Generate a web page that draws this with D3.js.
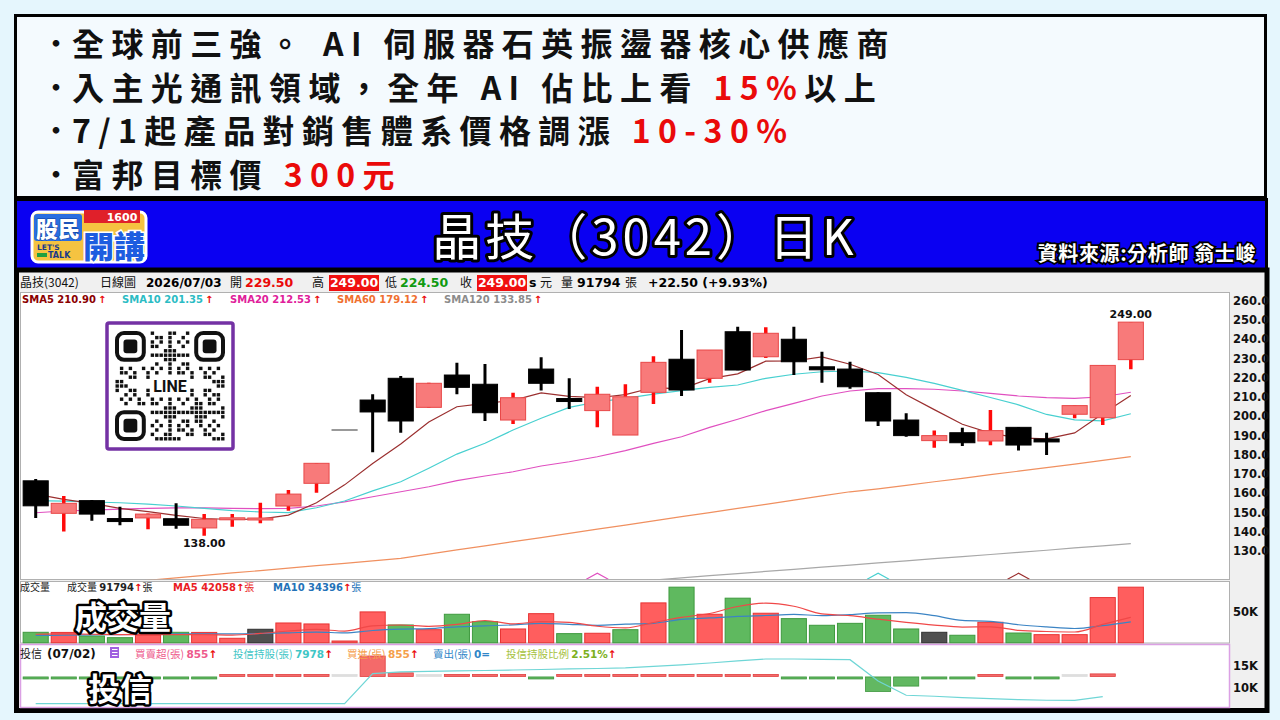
<!DOCTYPE html>
<html>
<head>
<meta charset="utf-8">
<script src="https://cdn.jsdelivr.net/npm/d3@7"></script>
<style>
  html, body { margin: 0; padding: 0; background: #e5f6fd; }
  svg { display: block; }
</style>
</head>
<body>
<svg id="chart" width="1280" height="720"></svg>
<script>
// ---- data ----
const bulletLines = [
  [["全球前三強。 AI 伺服器石英振盪器核心供應商", "k"]],
  [["入主光通訊領域，全年 AI 佔比上看 ", "k"], ["15%", "r"], ["以上", "k"]],
  [["7/1起產品對銷售體系價格調漲 ", "k"], ["10-30%", "r"]],
  [["富邦目標價 ", "k"], ["300元", "r"]]
];
const title = "晶技（3042）日K";
const source = "資料來源:分析師 翁士峻";

const open  = [166.5,149.6,156.2,146.2,147.2,146.8,142.0,146.5,146.3,153.4,165.2,192.9,208.5,219.8,204.7,221.5,216.7,198.1,224.6,209.0,203.0,190.3,212.5,229.7,219.8,244.0,231.0,240.1,225.5,224.6,212.3,198.1,187.4,191.5,187.2,194.3,187.6,201.1,199.3,229.5];
const high  = [167.5,158.6,156.5,153.0,149.5,154.8,149.2,149.2,155.1,161.7,175.6,192.9,211.5,221.0,217.5,227.9,227.2,212.3,230.7,219.8,215.4,216.7,231.2,244.9,234.5,246.6,246.3,246.6,233.6,228.4,212.5,201.6,192.6,194.1,203.3,194.5,191.5,205.6,226.5,249.0];
const low   = [147.2,140.2,145.8,143.4,141.3,141.6,138.0,142.6,144.4,151.0,160.3,192.9,181.3,191.5,204.5,211.5,197.6,196.0,213.4,203.8,194.3,190.3,206.4,210.6,217.5,224.0,230.4,221.5,217.5,214.4,195.0,189.4,183.7,184.6,185.0,182.2,179.9,199.0,195.5,224.5];
const close = [153.5,154.8,149.2,146.0,149.2,143.4,146.5,147.0,147.0,159.6,175.6,192.9,202.3,197.6,217.2,215.1,201.9,209.7,217.2,208.0,211.5,210.2,228.1,213.7,234.5,224.1,243.2,228.4,224.5,215.4,197.6,190.0,190.0,186.3,192.6,185.1,187.4,205.6,226.5,249.0];

const sma5   = [159.6,156.9,154.8,152.2,150.5,148.5,146.9,146.4,146.6,148.7,155.1,164.4,175.5,185.6,197.1,205.0,206.8,208.3,212.2,210.4,209.7,211.3,215.0,214.3,219.6,222.1,228.7,228.8,230.9,227.1,221.8,211.2,203.5,195.9,191.3,188.8,188.3,191.4,201.4,210.9];
const sma10  = [156.2,155.9,155.5,155.1,154.4,153.4,152.2,151.0,150.3,150.0,152.5,156.0,161.3,166.0,173.0,180.4,186.0,192.9,199.0,204.7,207.5,209.4,211.6,213.4,215.1,216.3,219.8,221.9,223.2,223.6,222.7,220.3,217.2,213.5,209.8,206.0,201.0,198.2,197.7,201.35];
const sma20  = [149.9,150.8,151.3,151.8,152.2,152.4,152.4,152.2,152.0,152.2,153.4,155.6,158.2,160.8,163.4,166.6,169.0,171.2,174.2,176.4,179.0,182.2,186.0,189.4,194.3,198.5,203.0,206.8,210.6,213.2,214.4,214.4,214.1,213.2,212.0,210.6,209.7,209.4,210.2,212.53];
const sma60  = [109.7,111.0,112.2,113.5,114.8,116.0,117.3,118.6,119.8,121.1,122.4,123.6,124.9,126.2,128.4,130.6,132.7,134.9,137.0,139.2,141.4,143.5,145.7,147.9,150.0,152.2,154.3,156.5,158.7,160.8,162.3,164.1,166.0,167.8,169.7,171.5,173.4,175.2,177.1,179.12];
const sma120 = [null,null,null,null,null,null,null,null,null,null,null,null,null,null,null,null,null,null,null,null,null,113.8,114.9,116.0,117.2,118.3,119.4,120.5,121.6,122.7,123.8,124.9,126.0,127.1,128.2,129.3,130.4,131.6,132.7,133.85];

const volume = [17200,17000,11000,8300,12700,17200,17000,7300,22200,32600,31000,2800,50900,29300,21500,47000,34800,22700,48000,15000,15600,21500,65800,91800,47000,73600,48700,39800,28800,32000,45400,22700,17200,12300,33800,16000,13300,13300,74600,91794];
const volMa5  = [14000,14500,14000,13500,13200,13200,13200,12500,15300,19300,22000,19200,27900,29300,27100,30300,36700,31100,34800,33500,27200,24600,33200,41900,48300,59900,65400,60200,47600,44600,38900,33700,29200,25900,26300,20400,18500,17700,30200,42058];
const volMa10 = [12000,12500,13000,13500,14000,14500,14800,14600,15200,16300,17600,16200,20200,22300,23200,26200,27900,29500,32100,30300,28800,30600,32100,38400,40900,43600,45000,46700,44800,46500,49400,49600,44700,36800,35400,29700,26100,23500,28100,34396];

// 投信 (through 07/02, one day short)
const trustNet  = [-30,-20,-30,-20,-10,-20,-30,20,30,20,20,0,6820,1200,0,40,40,40,-30,40,40,40,60,30,120,100,150,-40,-40,-40,-4840,-3050,-60,-60,50,-120,-80,0,855];
const trustHold = [6360,6360,6360,6360,6360,6360,6360,6360,6360,6360,6360,6360,13180,13570,13680,13800,13900,14020,14130,14250,14360,14480,14840,15160,15610,16070,16520,16520,16450,16360,11520,8270,8040,7730,7500,7270,7140,7123,7978];

const priceTicks = [260,250,240,230,220,210,200,190,180,170,160,150,140,130];
const volTicks = [50000];
const holdTicks = [15000, 10000];
const nSlots = 43;

const smaDefs = [
  { key: "SMA5",   values: sma5,   color: "#9b3030", text: "#8b0000", last: "210.90" },
  { key: "SMA10",  values: sma10,  color: "#48d0d0", text: "#2bbcc4", last: "201.35" },
  { key: "SMA20",  values: sma20,  color: "#e050c0", text: "#e0209a", last: "212.53" },
  { key: "SMA60",  values: sma60,  color: "#f09060", text: "#f07030", last: "179.12" },
  { key: "SMA120", values: sma120, color: "#a8a8a8", text: "#8c8c8c", last: "133.85" }
];
const crossMarks = [ { i: 20, sma: "SMA20" }, { i: 30, sma: "SMA10" }, { i: 35, sma: "SMA5" } ];

// ---- drawing ----
const svg = d3.select("#chart");
const RED = "#ea0a0a";
const CJK = "'Noto Sans CJK TC', 'Noto Sans', sans-serif";
const NUM = "'DejaVu Sans', Verdana, sans-serif";

// top bullet box
svg.append("rect").attr("x", 15.5).attr("y", 15.5).attr("width", 1250).attr("height", 182)
  .attr("fill", "#f4fafe").attr("stroke", "#000").attr("stroke-width", 3);

bulletLines.forEach((segs, li) => {
  const yb = 56 + li * 43.6;
  svg.append("text").attr("x", 43).attr("y", yb - 3).attr("font-family", CJK)
    .attr("font-size", 26).attr("font-weight", 700).attr("fill", "#111").text("•");
  const t = svg.append("text").attr("x", 72).attr("y", yb)
    .attr("font-family", CJK).attr("font-size", 32).attr("font-weight", 700)
    .attr("letter-spacing", 7.4);
  segs.forEach(([s, c]) => t.append("tspan").attr("fill", c === "r" ? RED : "#111").text(s));
});

// title bar
svg.append("rect").attr("x", 15.5).attr("y", 199.5).attr("width", 1251).attr("height", 70)
  .attr("fill", "#0a00f2").attr("stroke", "#000").attr("stroke-width", 3);
svg.append("text").attr("x", 645).attr("y", 255).attr("text-anchor", "middle")
  .attr("font-family", CJK).attr("font-size", 49).attr("font-weight", 400)
  .attr("letter-spacing", 4)
  .attr("fill", "#fff").attr("stroke", "#000").attr("stroke-width", 6)
  .attr("paint-order", "stroke").attr("stroke-linejoin", "round").text(title);
svg.append("text").attr("x", 1256).attr("y", 261).attr("text-anchor", "end")
  .attr("font-family", CJK).attr("font-size", 20).attr("font-weight", 700).attr("letter-spacing", 0.6)
  .attr("fill", "#fff").attr("stroke", "#000").attr("stroke-width", 3.5)
  .attr("paint-order", "stroke").text(source);

// logo
{
  const g = svg.append("g");
  g.append("rect").attr("x", 32).attr("y", 212).attr("width", 114).attr("height", 50).attr("rx", 6)
    .attr("fill", "#f5c341").attr("stroke", "#fff").attr("stroke-width", 3);
  g.append("rect").attr("x", 34).attr("y", 214).attr("width", 48).attr("height", 27).attr("rx", 3)
    .attr("fill", "#2a6ee0");
  g.append("text").attr("x", 58).attr("y", 237).attr("text-anchor", "middle").attr("font-family", CJK)
    .attr("font-size", 22).attr("font-weight", 900).attr("fill", "#fff")
    .attr("stroke", "#1040a0").attr("stroke-width", 1).attr("paint-order", "stroke").text("股民");
  g.append("rect").attr("x", 84).attr("y", 210).attr("width", 56).attr("height", 13).attr("fill", "#e0202a");
  g.append("text").attr("x", 122).attr("y", 221).attr("text-anchor", "middle").attr("font-family", NUM)
    .attr("font-size", 11).attr("font-weight", 700).attr("fill", "#fff").text("1600");
  g.append("text").attr("x", 114).attr("y", 258).attr("text-anchor", "middle").attr("font-family", CJK)
    .attr("font-size", 31).attr("font-weight", 900).attr("fill", "#1d5de0")
    .attr("stroke", "#fff").attr("stroke-width", 3).attr("paint-order", "stroke").text("開講");
  g.append("text").attr("x", 37).attr("y", 250).attr("font-family", NUM).attr("font-size", 7.5)
    .attr("font-weight", 700).attr("fill", "#1a3a8a").text("LET'S");
  g.append("rect").attr("x", 37).attr("y", 253).attr("width", 10).attr("height", 4).attr("fill", "#20a040");
  g.append("text").attr("x", 48).attr("y", 258).attr("font-family", NUM).attr("font-size", 8)
    .attr("font-weight", 700).attr("fill", "#1a3a8a").text("TALK");
}

// chart frame
svg.append("rect").attr("x", 16.5).attr("y", 270).attr("width", 1250.5).attr("height", 440.5)
  .attr("fill", "#f0f0f0").attr("stroke", "#000").attr("stroke-width", 5);

// info row
{
  const yb = 287;
  const items = [
    { x: 20, t: "晶技(3042)", f: CJK, s: 12, w: 400, c: "#111" },
    { x: 100, t: "日線圖", f: CJK, s: 12, w: 400, c: "#111" },
    { x: 146, t: "2026/07/03", f: NUM, s: 12, w: 700, c: "#000" },
    { x: 230, t: "開", f: CJK, s: 12, w: 400, c: "#111" },
    { x: 245, t: open[39].toFixed(2), f: NUM, s: 12.5, w: 700, c: RED },
    { x: 312, t: "高", f: CJK, s: 12, w: 400, c: "#111" },
    { x: 385, t: "低", f: CJK, s: 12, w: 400, c: "#111" },
    { x: 400, t: low[39].toFixed(2), f: NUM, s: 12.5, w: 700, c: "#119a11" },
    { x: 460, t: "收", f: CJK, s: 12, w: 400, c: "#111" },
    { x: 529, t: "s", f: NUM, s: 12.5, w: 700, c: "#000" },
    { x: 540, t: "元", f: CJK, s: 12, w: 400, c: "#111" },
    { x: 561, t: "量", f: CJK, s: 12, w: 400, c: "#111" },
    { x: 577, t: String(volume[39]), f: NUM, s: 12.5, w: 700, c: "#000" },
    { x: 625, t: "張", f: CJK, s: 12, w: 400, c: "#111" },
    { x: 648, t: "+22.50 (+9.93%)", f: NUM, s: 12.5, w: 700, c: "#000" }
  ];
  [[329, high[39]], [477, close[39]]].forEach(([bx, v]) => {
    svg.append("rect").attr("x", bx).attr("y", 275).attr("width", 50).attr("height", 16).attr("fill", "#f01010");
    svg.append("text").attr("x", bx + 25).attr("y", yb).attr("text-anchor", "middle")
      .attr("font-family", NUM).attr("font-size", 12.5).attr("font-weight", 700).attr("fill", "#fff").text(v.toFixed(2));
  });
  items.forEach(d => svg.append("text").attr("x", d.x).attr("y", yb).attr("font-family", d.f)
    .attr("font-size", d.s).attr("font-weight", d.w).attr("fill", d.c).text(d.t));
}

// scales
const x = d3.scaleBand().domain(d3.range(nSlots)).range([21.66, 1229.1]).paddingInner(0.07).paddingOuter(0.035);
const bw = x.bandwidth();
const cx = i => x(i) + bw / 2;

const priceTop = 292.7, priceBot = 579.3;
const y = d3.scaleLinear().domain([115.3, 264.3]).range([priceBot, priceTop]);
const yv = d3.scaleLinear().domain([0, 102000]).range([642.7, 581]);
const yNet = d3.scaleLinear().domain([-10200, 10500]).range([707, 645]);
const yHold = d3.scaleLinear().domain([5600, 19700]).range([707, 645]);

// panels
svg.append("rect").attr("x", 20.5).attr("y", 292.5).attr("width", 1209).attr("height", 287)
  .attr("fill", "#fff").attr("stroke", "#b0b0b0");
svg.append("rect").attr("x", 20.5).attr("y", 581.5).attr("width", 1209).attr("height", 61.5)
  .attr("fill", "#fff").attr("stroke", "#b0b0b0");
svg.append("rect").attr("x", 20.5).attr("y", 644.5).attr("width", 1209).attr("height", 63)
  .attr("fill", "#fff").attr("stroke", "#dba0e4").attr("stroke-width", 1.5);

svg.append("clipPath").attr("id", "priceClip").append("rect")
  .attr("x", 21).attr("y", priceTop).attr("width", 1208).attr("height", priceBot - priceTop);

// right axis labels
const axisText = (yy, label) => svg.append("text").attr("x", 1233).attr("y", yy).attr("dy", "0.35em")
  .attr("font-family", NUM).attr("font-size", 11.5).attr("font-weight", 700).attr("fill", "#111").text(label);
priceTicks.forEach(v => axisText(y(v), v.toFixed(1)));
volTicks.forEach(v => axisText(yv(v), (v / 1000) + "K"));
holdTicks.forEach(v => axisText(yHold(v), (v / 1000) + "K"));

// SMA legend
{
  const xs = [22, 122, 230, 337, 444];
  smaDefs.forEach((d, k) => {
    const tt = svg.append("text").attr("x", xs[k]).attr("y", 303).attr("font-family", NUM)
      .attr("font-size", 10).attr("font-weight", 700);
    tt.append("tspan").attr("fill", d.text).text(`${d.key} ${d.last}`);
    tt.append("tspan").attr("fill", RED).attr("dx", 2).text("↑");
  });
}

// QR code card
{
  const g = svg.append("g");
  const bx = 107, by = 323, bs = 126;
  g.append("rect").attr("x", bx).attr("y", by).attr("width", bs).attr("height", bs).attr("rx", 2)
    .attr("fill", "#fff").attr("stroke", "#7432a4").attr("stroke-width", 3.5);
  const n = 25, m = 4.4, ox = 115, oy = 331;
  const inFinder = (r, c) => (r < 8 && c < 8) || (r < 8 && c > n - 9) || (r > n - 9 && c < 8);
  const inLogo = (r, c) => r >= 10 && r <= 14 && c >= 8 && c <= 16;
  const cells = [];
  for (let r = 0; r < n; r++) for (let c = 0; c < n; c++) {
    if (inFinder(r, c) || inLogo(r, c)) continue;
    if (((r * 37 + c * 23 + r * c * 11) % 13) < 6) cells.push([r, c]);
  }
  g.selectAll(".mod").data(cells).join("rect").attr("class", "mod")
    .attr("x", d => ox + d[1] * m + 0.5).attr("y", d => oy + d[0] * m + 0.5)
    .attr("width", m - 1).attr("height", m - 1).attr("fill", "#111");
  [[0, 0], [0, n - 7], [n - 7, 0]].forEach(([r, c]) => {
    g.append("rect").attr("x", ox + c * m + 2).attr("y", oy + r * m + 2).attr("width", 7 * m - 4)
      .attr("height", 7 * m - 4).attr("rx", 7).attr("fill", "none").attr("stroke", "#111").attr("stroke-width", 4);
    g.append("rect").attr("x", ox + c * m + 8.5).attr("y", oy + r * m + 8.5).attr("width", 7 * m - 17)
      .attr("height", 7 * m - 17).attr("rx", 3).attr("fill", "#111");
  });
  g.append("text").attr("x", bx + bs / 2).attr("y", by + bs / 2 + 6).attr("text-anchor", "middle")
    .attr("font-family", "Roboto, sans-serif").attr("font-size", 16).attr("font-weight", 700)
    .attr("fill", "#111").text("LINE");
}

// SMA lines
const pg = svg.append("g").attr("clip-path", "url(#priceClip)");
smaDefs.slice().reverse().forEach(d => {
  const line = d3.line().defined(v => v != null).x((v, i) => cx(i)).y(v => y(v));
  pg.append("path").datum(d.values).attr("d", line).attr("fill", "none")
    .attr("stroke", d.color).attr("stroke-width", 1.2);
});

// cross marks at plot bottom
crossMarks.forEach(m => {
  const c = smaDefs.find(d => d.key === m.sma).color;
  pg.append("polyline").attr("points", `${cx(m.i) - 11},${priceBot} ${cx(m.i)},${priceBot - 6} ${cx(m.i) + 11},${priceBot}`)
    .attr("fill", "none").attr("stroke", c).attr("stroke-width", 1.2);
});

// candles
const idx = d3.range(open.length);
idx.forEach(i => {
  const o = open[i], c = close[i], h = high[i], l = low[i];
  if (h === l) {
    pg.append("line").attr("x1", x(i)).attr("x2", x(i) + bw).attr("y1", y(c)).attr("y2", y(c))
      .attr("stroke", "#999").attr("stroke-width", 2);
    return;
  }
  const up = c > o;
  pg.append("line").attr("x1", cx(i)).attr("x2", cx(i)).attr("y1", y(h)).attr("y2", y(l))
    .attr("stroke", up ? "#ff0a0a" : "#000").attr("stroke-width", up ? 3.5 : 3);
  const top = y(Math.max(o, c)), hgt = Math.max(Math.abs(y(o) - y(c)), up ? 2 : 3);
  pg.append("rect").attr("x", x(i) + 0.5).attr("y", Math.abs(y(o) - y(c)) < hgt ? (y(o) + y(c)) / 2 - hgt / 2 : top)
    .attr("width", bw - 1).attr("height", hgt)
    .attr("fill", up ? "#f87a7a" : "#000").attr("stroke", up ? "#e84848" : "#000").attr("stroke-width", 1);
});

// high / low labels
const hiI = d3.maxIndex(high), loI = d3.minIndex(low);
svg.append("text").attr("x", cx(hiI)).attr("y", y(high[hiI]) - 4).attr("text-anchor", "middle")
  .attr("font-family", NUM).attr("font-size", 11).attr("font-weight", 700).attr("fill", "#111")
  .text(high[hiI].toFixed(2));
svg.append("text").attr("x", cx(loI)).attr("y", y(low[loI]) + 11).attr("text-anchor", "middle")
  .attr("font-family", NUM).attr("font-size", 11).attr("font-weight", 700).attr("fill", "#111")
  .text(low[loI].toFixed(2));

// volume bars
const volDir = i => {
  const ref = i === 0 ? open[0] : close[i - 1];
  return close[i] > ref ? "up" : close[i] < ref ? "down" : "flat";
};
const volFill = { up: "#ff5e5e", down: "#5fb95f", flat: "#505050" };
const volStroke = { up: "#e83434", down: "#3f9a3f", flat: "#303030" };
svg.append("g").selectAll("rect").data(volume).join("rect")
  .attr("x", (v, i) => x(i) + 0.5).attr("width", bw - 1)
  .attr("y", v => yv(v)).attr("height", v => yv(0) - yv(v))
  .attr("fill", (v, i) => volFill[volDir(i)]).attr("stroke", (v, i) => volStroke[volDir(i)]);
[[volMa10, "#3b84c4"], [volMa5, "#f04848"]].forEach(([arr, col]) => {
  svg.append("path").datum(arr).attr("fill", "none").attr("stroke", col).attr("stroke-width", 1.2)
    .attr("d", d3.line().x((v, i) => cx(i)).y(v => yv(v)).curve(d3.curveMonotoneX));
});

// volume header
{
  const yb = 591;
  svg.append("text").attr("x", 20).attr("y", yb).attr("font-family", CJK).attr("font-size", 10).attr("fill", "#222").text("成交量");
  const mk = (x0, label, val, col, unitCol) => {
    const t = svg.append("text").attr("x", x0).attr("y", yb).attr("font-family", NUM).attr("font-size", 10).attr("font-weight", 700);
    t.append("tspan").attr("font-family", CJK).attr("font-weight", 400).attr("fill", col).text(label);
    t.append("tspan").attr("fill", col).text(val);
    t.append("tspan").attr("fill", RED).text("↑");
    t.append("tspan").attr("font-family", CJK).attr("font-weight", 400).attr("fill", unitCol).text("張");
  };
  mk(67, "成交量 ", String(volume[39]), "#222", "#222");
  mk(173, "", "MA5 " + volMa5[39], "#ea1c24", "#ea1c24");
  mk(273, "", "MA10 " + volMa10[39], "#2372b8", "#2372b8");
}

// 投信 bars + holdings line
const netColor = v => v > 0 ? ["#f46a6a", "#e04040"] : v < 0 ? ["#62b862", "#3c963c"] : ["#dedede", "#dedede"];
svg.append("g").selectAll("rect").data(trustNet).join("rect")
  .attr("x", (v, i) => x(i) + 0.5).attr("width", bw - 1)
  .attr("y", v => v >= 0 ? Math.min(yNet(v), yNet(0) - 2) : yNet(0) + 0.5)
  .attr("height", v => Math.max(Math.abs(yNet(v) - yNet(0)), 2))
  .attr("fill", v => netColor(v)[0]).attr("stroke", v => netColor(v)[1]).attr("stroke-width", 0.8);
svg.append("path").datum(trustHold).attr("fill", "none").attr("stroke", "#6fd6d6").attr("stroke-width", 1.2)
  .attr("d", d3.line().x((v, i) => cx(i)).y(v => yHold(v)));

// 投信 header
{
  const yb = 658;
  svg.append("text").attr("x", 20).attr("y", yb).attr("font-family", CJK).attr("font-size", 11).attr("fill", "#222").text("投信");
  svg.append("text").attr("x", 47).attr("y", yb).attr("font-family", NUM).attr("font-size", 12).attr("font-weight", 700).attr("fill", "#111").text("(07/02)");
  svg.append("rect").attr("x", 110).attr("y", 647).attr("width", 9).attr("height", 11).attr("fill", "#a060e0");
  [649.5, 652.5, 655.5].forEach(yy => svg.append("line").attr("x1", 112).attr("x2", 117.5).attr("y1", yy).attr("y2", yy).attr("stroke", "#fff").attr("stroke-width", 1));
  const parts = [
    { x: 135, label: "買賣超(張) ", val: "855", c: "#ee5a8c", mark: "↑" },
    { x: 233, label: "投信持股(張) ", val: String(trustHold[38]), c: "#3fc6c6", mark: "↑" },
    { x: 347, label: "買進(張) ", val: "855", c: "#f5a04a", mark: "↑" },
    { x: 433, label: "賣出(張) ", val: "0", c: "#2f86c8", mark: "=" },
    { x: 506, label: "投信持股比例 ", val: "2.51%", c: "#a6c23e", mark: "↑" }
  ];
  parts.forEach(p => {
    const t = svg.append("text").attr("x", p.x).attr("y", yb).attr("font-size", 10.5);
    t.append("tspan").attr("font-family", CJK).attr("fill", p.c).text(p.label);
    t.append("tspan").attr("font-family", NUM).attr("font-weight", 700).attr("fill", p.c === "#a6c23e" ? "#7cb020" : p.c).text(p.val);
    t.append("tspan").attr("font-family", NUM).attr("font-weight", 700).attr("fill", p.mark === "=" ? p.c : RED).text(p.mark);
  });
}

// big overlay captions
[["成交量", 75, 629], ["投信", 88, 701]].forEach(([s, xx, yy]) => {
  svg.append("text").attr("x", xx).attr("y", yy).attr("font-family", CJK).attr("font-size", 32)
    .attr("font-weight", 700).attr("fill", "#fff").attr("stroke", "#000").attr("stroke-width", 5)
    .attr("stroke-linejoin", "round").attr("paint-order", "stroke").text(s);
});
</script>
</body>
</html>
